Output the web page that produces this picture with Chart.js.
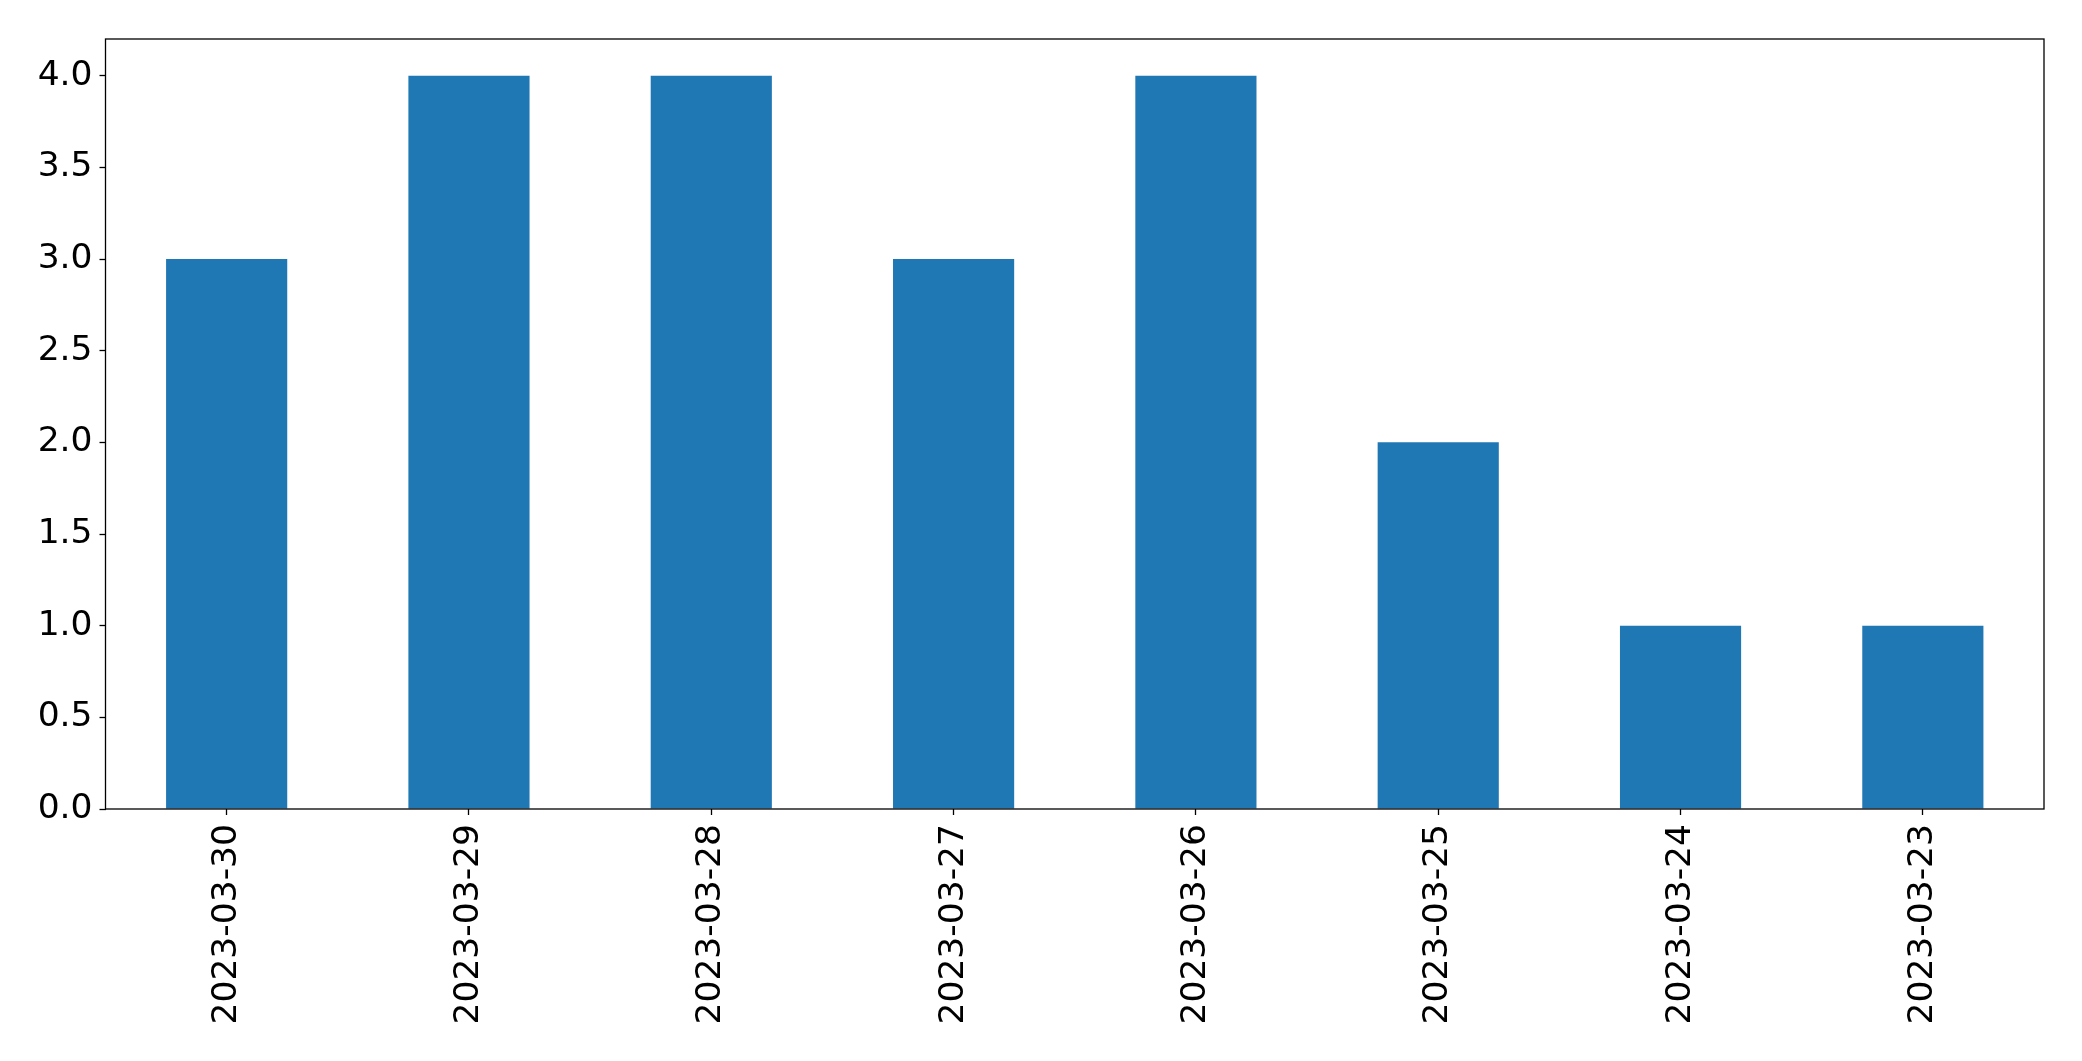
<!DOCTYPE html>
<html>
<head>
<meta charset="utf-8">
<script src="https://cdn.jsdelivr.net/npm/chart.js@4.4.0/dist/chart.umd.min.js"></script>
<style>
  html, body { margin: 0; padding: 0; background: #fff; }
  #wrap { width: 2082px; height: 1061px; }
</style>
</head>
<body>
<div id="wrap"><canvas id="myChart" width="2082" height="1061"></canvas></div>
<script>
const fechas = ['2023-03-30', '2023-03-29', '2023-03-28', '2023-03-27', '2023-03-26', '2023-03-25', '2023-03-24', '2023-03-23']
const cantidades = [3, 4, 4, 3, 4, 2, 1, 1]
const yTicks = [0, 0.5, 1, 1.5, 2, 2.5, 3, 3.5, 4]

// marco completo alrededor del area del grafico
const marco = {
    id: 'marco',
    afterDraw(chart) {
        const a = chart.chartArea
        const c = chart.ctx
        c.save()
        c.strokeStyle = '#000'
        c.lineWidth = 1.3
        c.strokeRect(a.left, a.top, a.right - a.left, a.bottom - a.top)
        c.restore()
    }
}

Chart.defaults.font.family = "'DejaVu Sans', sans-serif"

var ctx = document.getElementById('myChart')
var myChart = new Chart(ctx, {
    type: 'bar',
    data: {
        labels: fechas,
        datasets: [{
            data: cantidades,
            backgroundColor: '#1f77b4',
            borderWidth: 0,
            barPercentage: 0.5,
            categoryPercentage: 1
        }]
    },
    plugins: [marco],
    options: {
        responsive: false,
        animation: false,
        layout: { padding: { top: 39, right: 38, left: 0, bottom: 0 } },
        plugins: {
            legend: { display: false },
            tooltip: { enabled: false }
        },
        scales: {
            x: {
                afterFit: (axis) => { axis.height = 252 },
                grid: { offset: false, drawOnChartArea: false, color: '#000', tickLength: 6, tickWidth: 1.3 },
                border: { display: false },
                ticks: {
                    color: '#000',
                    font: { size: 34.5 },
                    maxRotation: 90,
                    minRotation: 90,
                    padding: 9,
                    autoSkip: false
                }
            },
            y: {
                min: 0,
                max: 4.2,
                afterFit: (axis) => { axis.width = 105.5 },
                afterBuildTicks: (axis) => { axis.ticks = yTicks.map(v => ({ value: v })) },
                grid: { drawOnChartArea: false, color: '#000', tickLength: 6, tickWidth: 1.3 },
                border: { display: false },
                ticks: {
                    color: '#000',
                    font: { size: 34.5 },
                    padding: 7,
                    callback: (v) => Number(v).toFixed(1)
                }
            }
        }
    }
})
</script>
</body>
</html>
